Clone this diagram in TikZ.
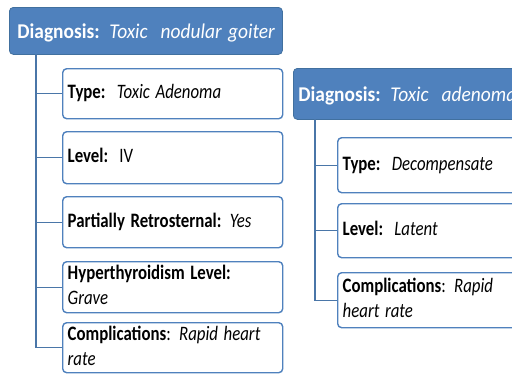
\documentclass[tikz,border=0pt]{standalone}
\usepackage{fontspec}
\usepackage{graphicx}
\setmainfont{Carlito}
\definecolor{hdrblue}{HTML}{4F81BD}
\definecolor{hdredge}{HTML}{41709F}
\definecolor{linkblue}{HTML}{4A76A8}
% narrow, tall lettering: text is squeezed horizontally
\newcommand{\hdrtext}[1]{\scalebox{0.925}[1]{#1}}
\newcommand{\itemtext}[1]{\scalebox{0.82}[1]{\begin{tabular}{@{}l@{}}#1\end{tabular}}}
\begin{document}
\begin{tikzpicture}[x=1pt,y=-1pt,
  hdr/.style={draw=hdredge, fill=hdrblue, line width=0.8pt, rounded corners=4pt,
    anchor=north west, text=white, font=\fontsize{21}{24}\selectfont,
    align=left, inner xsep=8pt, text depth=0pt},
  item/.style={draw=hdrblue, fill=white, line width=1.4pt, rounded corners=4pt,
    anchor=north west, inner xsep=5pt, inner ysep=0pt,
    font=\fontsize{20.5}{25}\selectfont, align=left},
  conn/.style={draw=linkblue, line width=1.3pt}]
\useasboundingbox (0,0) rectangle (512,373);
\clip (0,0) rectangle (512,373);
\fill[white] (0,0) rectangle (512,373);

% left column: toxic nodular goiter
\node[hdr, minimum width=273pt, minimum height=47pt, text width=257pt] (d1) at (9,7)
  {\hdrtext{\textbf{Diagnosis:} \textit{Toxic\ \ nodular goiter}}};
\node[item, minimum width=220pt, minimum height=50pt, text width=210pt] (t1) at (62,68)
  {\itemtext{\textbf{Type:}\ \ \textit{Toxic Adenoma}}};
\node[item, minimum width=220pt, minimum height=52pt, text width=210pt] (l1) at (62,131)
  {\itemtext{\textbf{Level:}\ \ IV}};
\node[item, minimum width=220pt, minimum height=51pt, text width=210pt] (p1) at (62,196)
  {\itemtext{\textbf{Partially Retrosternal:} \textit{Yes}}};
\node[item, minimum width=220pt, minimum height=51pt, text width=210pt] (h1) at (62,261)
  {\itemtext{\textbf{Hyperthyroidism Level:}\\\textit{Grave}}};
\node[item, minimum width=220pt, minimum height=50pt, text width=210pt] (c1) at (62,322)
  {\itemtext{\textbf{Complications}: \textit{Rapid heart}\\\textit{rate}}};

\coordinate (s1) at (36,54);
\foreach \n in {t1,l1,p1,h1,c1} \draw[conn] (s1) |- (\n.west);

% right column: toxic adenoma
\node[hdr, minimum width=260pt, minimum height=51pt, text width=250pt, inner xsep=3pt] (d2) at (293,68)
  {\hdrtext{\textbf{Diagnosis:} \textit{Toxic\ \ adenoma}}};
\node[item, minimum width=220pt, minimum height=55pt, text width=210pt] (t2) at (337,137)
  {\itemtext{\textbf{Type:}\ \ \textit{Decompensate}}};
\node[item, minimum width=220pt, minimum height=54pt, text width=210pt] (l2) at (337,203)
  {\itemtext{\textbf{Level:}\ \ \textit{Latent}}};
\node[item, minimum width=220pt, minimum height=55pt, text width=210pt] (c2) at (337,272)
  {\itemtext{\textbf{Complications}: \textit{Rapid}\\\textit{heart rate}}};

\coordinate (s2) at (315,119);
\foreach \n in {t2,l2,c2} \draw[conn] (s2) |- (\n.west);
\end{tikzpicture}
\end{document}
